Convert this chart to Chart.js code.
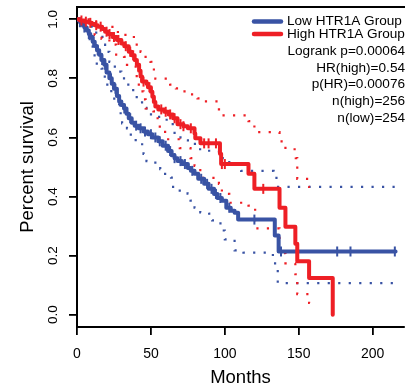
<!DOCTYPE html>
<html>
<head>
<meta charset="utf-8">
<script src="https://cdn.jsdelivr.net/npm/chart.js@4.4.0/dist/chart.umd.min.js"></script>
<style>
  html, body { margin: 0; padding: 0; background: #fff; overflow: hidden; }
  #wrap { width: 411px; height: 387px; position: relative; }
</style>
</head>
<body>
<div id="wrap"><canvas id="km"></canvas></div>
<script>
// ---- axes ----
const xTickVals = [0, 50, 100, 150, 200];
const yTickVals = [0, 0.2, 0.4, 0.6, 0.8, 1.0];
const yTickText = ['0.0', '0.2', '0.4', '0.6', '0.8', '1.0'];
const xTitle = 'Months';
const yTitle = 'Percent survival';

// ---- Low HTR1A group (KM steps: time of drop, survival after drop) ----
const lowTimes = [0, 1, 2, 3, 4, 5, 6.6, 8, 9, 10.6, 12, 13.5, 15, 16.5, 18.5, 20, 21.9, 23.5, 25, 27,
  28.5, 30, 31.8, 33.5, 35, 37, 39, 41.7, 45, 48, 51, 55, 58, 61.6, 64, 66, 68, 71, 75, 77,
  79.5, 82, 86, 89, 92.7, 95, 98, 101, 104, 106.6, 109, 133.8, 136.4, 215.5];
const lowSurv = [1, 0.996, 0.99, 0.984, 0.978, 0.972, 0.962, 0.95, 0.94, 0.924, 0.91, 0.895, 0.88, 0.862, 0.846, 0.82, 0.8, 0.782, 0.765, 0.74,
  0.722, 0.71, 0.698, 0.68, 0.665, 0.65, 0.64, 0.631, 0.62, 0.611, 0.6, 0.587, 0.572, 0.554, 0.54, 0.53, 0.52, 0.51, 0.497, 0.487,
  0.477, 0.46, 0.443, 0.426, 0.409, 0.395, 0.386, 0.362, 0.352, 0.345, 0.322, 0.268, 0.214, 0.214];
const lowCensor = [2, 5, 8, 11, 14, 17, 19, 23, 26, 29, 32, 36, 40, 43, 46, 50, 53, 56, 60, 63,
  66, 70, 73, 78, 84, 88, 91, 94, 97, 103, 120, 138, 176, 185, 215];

const lowUpperT = [0, 3, 6, 8, 10.6, 13, 17.2, 19, 21.9, 24, 27.2, 30, 33.1, 36, 40.4, 44, 47, 52, 57, 62,
  66, 70, 75, 81, 88, 96, 103, 111, 133, 136, 215.5];
const lowUpper = [1, 0.995, 0.985, 0.975, 0.964, 0.945, 0.914, 0.89, 0.856, 0.84, 0.823, 0.8, 0.779, 0.76, 0.732, 0.7, 0.678, 0.67, 0.66, 0.645,
  0.605, 0.59, 0.578, 0.56, 0.555, 0.53, 0.513, 0.487, 0.463, 0.433, 0.433];
const lowLowerT = [0, 2, 5, 8.6, 10.6, 11.9, 16.6, 17.2, 20.5, 23.2, 25.2, 28.5, 30.5, 33.8, 36.4, 39.7, 45, 47, 53, 56.3,
  59.6, 63.6, 65, 69.5, 74.8, 76.8, 79.5, 83.4, 89.4, 91.4, 96, 99.3, 100, 106.6, 112.6, 132.5, 135.8, 215.5];
const lowLower = [1, 0.99, 0.96, 0.917, 0.883, 0.85, 0.833, 0.806, 0.779, 0.749, 0.722, 0.682, 0.648, 0.631, 0.604, 0.577, 0.544, 0.52, 0.51, 0.493,
  0.473, 0.464, 0.433, 0.42, 0.41, 0.386, 0.362, 0.346, 0.342, 0.319, 0.309, 0.285, 0.255, 0.218, 0.21, 0.174, 0.107, 0.107];

// ---- High HTR1A group ----
const highTimes = [0, 2, 5, 8, 10, 12, 14, 17, 19, 21, 24, 27, 30, 32, 35, 37, 39, 40.5, 42, 43,
  44, 47, 48, 50, 51, 52, 53, 55, 59, 62, 65, 68, 72, 75, 79.5, 80, 83.5, 96.7, 97.5, 116,
  120, 137, 141, 147.7, 149, 157, 173];
const highSurv = [1, 0.996, 0.992, 0.988, 0.984, 0.98, 0.975, 0.967, 0.958, 0.95, 0.94, 0.93, 0.918, 0.909, 0.89, 0.878, 0.862, 0.846, 0.826, 0.806,
  0.789, 0.782, 0.77, 0.755, 0.738, 0.72, 0.705, 0.695, 0.687, 0.678, 0.665, 0.645, 0.638, 0.631, 0.613, 0.597, 0.58, 0.545, 0.51, 0.477,
  0.426, 0.362, 0.298, 0.24, 0.181, 0.124, 0];
const highCensor = [3, 6, 9, 13, 16, 20, 22, 25, 28, 33, 36, 38, 45, 49, 57, 60, 63, 66, 70, 72,
  77, 86, 89, 94, 98, 100, 126];

const highUpperT = [0, 10, 15, 23, 26.5, 31.8, 36.4, 40.4, 43, 45, 49.7, 50.3, 53, 58.3, 63, 66.9, 71.5, 76.8, 81.5, 86,
  96, 98, 116, 120, 137, 141, 148, 149, 157, 157.5];
const highUpper = [1, 0.99, 0.974, 0.974, 0.957, 0.947, 0.94, 0.914, 0.89, 0.873, 0.856, 0.83, 0.799, 0.799, 0.779, 0.766, 0.756, 0.746, 0.732, 0.722,
  0.695, 0.675, 0.655, 0.618, 0.587, 0.56, 0.53, 0.46, 0.433, 0.433];
const highLowerT = [0, 5, 11.9, 16.6, 21.9, 26.5, 31.8, 33.8, 39.7, 40.4, 43, 45, 46.4, 51.7, 53, 56, 59.6, 69.5, 76.8, 79.5,
  83.4, 96, 98, 103, 116, 120.5, 137, 141, 147.7, 149, 157, 157.5];
const highLower = [1, 0.99, 0.947, 0.934, 0.914, 0.88, 0.873, 0.846, 0.813, 0.779, 0.756, 0.729, 0.698, 0.688, 0.665, 0.628, 0.594, 0.564, 0.53, 0.504,
  0.463, 0.443, 0.409, 0.379, 0.369, 0.292, 0.208, 0.174, 0.137, 0.07, 0.04, 0.04];

// ---- legend ----
const groupLabels = ['Low HTR1A Group', 'High HTR1A Group'];
const statLines = ['Logrank p=0.00064', 'HR(high)=0.54', 'p(HR)=0.00076', 'n(high)=256', 'n(low)=254'];

const BLUE = '#3953a4';
const RED = '#ee1f25';
const FONT = "'Liberation Sans', Arial, Helvetica, sans-serif";

const pts = (t, s) => t.map((v, i) => ({ x: v, y: s[i] }));
// survival value in force at time t
function survAt(t, s, at) {
  let v = s[0];
  for (let i = 0; i < t.length; i++) { if (t[i] <= at) v = s[i]; else break; }
  return v;
}

const stepLine = (data, color, order) => ({
  data, borderColor: color, borderWidth: 4, stepped: true, pointRadius: 0,
  borderCapStyle: 'round', borderJoinStyle: 'round', fill: false, order
});
const ciLine = (data, color, order) => ({
  data, borderColor: color, borderWidth: 2.2, stepped: true, pointRadius: 0,
  borderDash: [2.2, 8.3], borderCapStyle: 'butt', fill: false, order
});
const ticks = (times, t, s, color, order) => ({
  type: 'scatter', showLine: false,
  data: times.map(c => ({ x: c, y: survAt(t, s, c) })),
  pointStyle: 'line', rotation: 90, pointRadius: 5, pointBorderWidth: 2,
  borderColor: color, pointBorderColor: color, order
});

const decor = {
  id: 'decor',
  afterDraw(chart) {
    const { ctx, chartArea: a, scales: { y } } = chart;
    ctx.save();
    // top side of the box
    ctx.strokeStyle = '#000';
    ctx.lineWidth = 2;
    ctx.beginPath();
    ctx.moveTo(a.left - 1, a.top);
    ctx.lineTo(a.right + 1, a.top);
    ctx.stroke();

    ctx.fillStyle = '#000';
    // y tick labels, rotated as in base R
    ctx.font = `13.5px ${FONT}`;
    ctx.textAlign = 'center';
    ctx.textBaseline = 'alphabetic';
    yTickVals.forEach((v, i) => {
      ctx.save();
      ctx.translate(57, y.getPixelForValue(v));
      ctx.rotate(-Math.PI / 2);
      ctx.fillText(yTickText[i], 0, 0);
      ctx.restore();
    });

    // axis titles
    ctx.font = `18.5px ${FONT}`;
    ctx.textBaseline = 'middle';
    ctx.fillText(xTitle, (a.left + a.right) / 2, 377.5);
    ctx.save();
    ctx.translate(28, (a.top + a.bottom) / 2);
    ctx.rotate(-Math.PI / 2);
    ctx.fillText(yTitle, 0, 0);
    ctx.restore();

    // legend
    ctx.font = `13.6px ${FONT}`;
    const rows = [21.5, 34];
    [BLUE, RED].forEach((c, i) => {
      ctx.strokeStyle = c;
      ctx.lineWidth = 4.5;
      ctx.lineCap = 'round';
      ctx.beginPath();
      ctx.moveTo(254, rows[i]);
      ctx.lineTo(281, rows[i]);
      ctx.stroke();
      ctx.textAlign = 'left';
      ctx.fillText(groupLabels[i], 287, rows[i]);
    });
    ctx.textAlign = 'right';
    statLines.forEach((s, i) => ctx.fillText(s, 405, 51 + i * 16.8));
    ctx.restore();
  }
};

new Chart(document.getElementById('km'), {
  type: 'line',
  data: {
    datasets: [
      ticks(highCensor, highTimes, highSurv, RED, 1),
      stepLine(pts(highTimes, highSurv), RED, 2),
      ticks(lowCensor, lowTimes, lowSurv, BLUE, 3),
      stepLine(pts(lowTimes, lowSurv), BLUE, 4),
      ciLine(pts(highUpperT, highUpper), RED, 5),
      ciLine(pts(highLowerT, highLower), RED, 6),
      ciLine(pts(lowUpperT, lowUpper), BLUE, 7),
      ciLine(pts(lowLowerT, lowLower), BLUE, 8)
    ]
  },
  options: {
    responsive: true,
    maintainAspectRatio: false,
    animation: false,
    devicePixelRatio: 1,
    layout: { padding: { top: 5, right: 0, left: 0, bottom: 0 } },
    plugins: { legend: { display: false }, tooltip: { enabled: false } },
    scales: {
      x: {
        type: 'linear', min: 0, max: 221.2,
        afterFit: s => { s.height = 60; },
        afterBuildTicks: s => { s.ticks = xTickVals.map(v => ({ value: v })); },
        ticks: { color: '#000', font: { family: FONT, size: 14 }, padding: 11, maxRotation: 0,
                 callback: v => String(v) },
        grid: { drawOnChartArea: false, drawTicks: true, tickLength: 8, color: '#000', lineWidth: 1.8 },
        border: { display: true, color: '#000', width: 2 }
      },
      y: {
        min: -0.0416, max: 1.0416,
        afterFit: s => { s.width = 77; },
        afterBuildTicks: s => { s.ticks = yTickVals.map(v => ({ value: v })); },
        ticks: { display: false },
        grid: { drawOnChartArea: false, drawTicks: true, tickLength: 8, color: '#000', lineWidth: 1.8 },
        border: { display: true, color: '#000', width: 2 }
      }
    }
  },
  plugins: [decor]
});
</script>
</body>
</html>
